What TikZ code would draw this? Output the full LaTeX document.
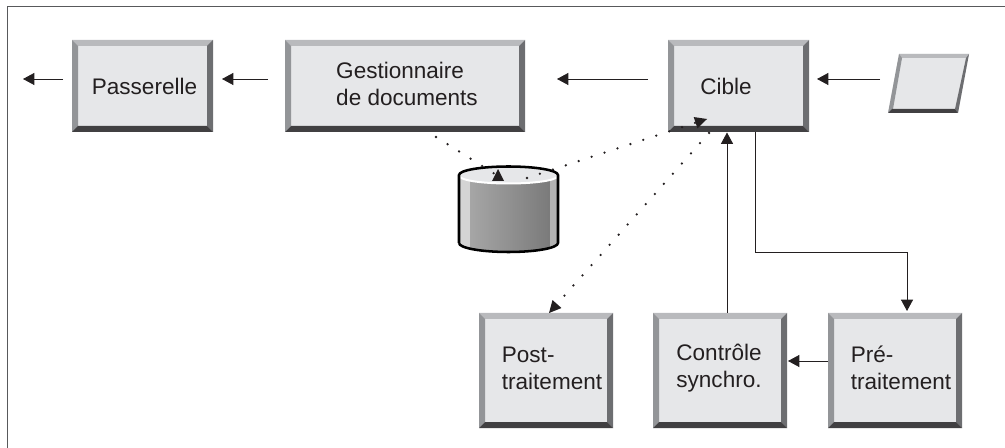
\documentclass[tikz,border=0pt]{standalone}
\usepackage{fontspec}
\setmainfont{Liberation Sans}
\usetikzlibrary{arrows.meta}
\definecolor{boxface}{HTML}{E6E7E9}
\definecolor{bevtop}{HTML}{B9BABD}
\definecolor{bevleft}{HTML}{939598}
\definecolor{bevright}{HTML}{6D6E71}
\definecolor{bevbottom}{HTML}{414042}
\definecolor{inkline}{HTML}{231F20}
\definecolor{framegray}{HTML}{58595B}
\begin{document}
\begin{tikzpicture}
            [x=0.75pt,y=-0.75pt,
            bevelbox/.style={fill=boxface,inner sep=0pt,outer sep=0pt,
                path picture={
                    \fill [bevtop] (path picture bounding box.north west) -- (path picture bounding box.north east) -- ([shift={(-6,6)}]path picture bounding box.north east) -- ([shift={(6,6)}]path picture bounding box.north west) -- cycle;
                    \fill [bevleft] (path picture bounding box.north west) -- (path picture bounding box.south west) -- ([shift={(6,-6)}]path picture bounding box.south west) -- ([shift={(6,6)}]path picture bounding box.north west) -- cycle;
                    \fill [bevright] (path picture bounding box.north east) -- (path picture bounding box.south east) -- ([shift={(-6,-6)}]path picture bounding box.south east) -- ([shift={(-6,6)}]path picture bounding box.north east) -- cycle;
                    \fill [bevbottom] (path picture bounding box.south west) -- (path picture bounding box.south east) -- ([shift={(-6,-6)}]path picture bounding box.south east) -- ([shift={(6,-6)}]path picture bounding box.south west) -- cycle;
                }},
            topbox/.style={bevelbox,minimum width=105.75pt,minimum height=69pt},
            lowbox/.style={bevelbox,minimum width=100.5pt,minimum height=86.25pt},
            boxtext/.style={align=left,inner sep=0pt,text=inkline,font=\fontsize{16.9}{20.2}\selectfont},
            link/.style={draw=inkline,line width=0.65pt,-{Triangle[length=8.5pt,width=9pt]}},
            dotlink/.style={draw=inkline,line width=1.9pt,line cap=round,dash pattern=on 0pt off 10.2pt,
                -{Triangle[length=9pt,width=9pt,round=false,line width=0pt]}}]
            \useasboundingbox (0,0) rectangle (1005,448);
            \draw [framegray,line width=1pt] (7.5,448) -- (7.5,6.5) -- (1005,6.5);

            \node [topbox] (pass) at (142.5,86) {};
            \node [topbox,minimum width=180pt] (gest) at (405,86) {};
            \node [topbox] (cible) at (738.5,86) {};
            \node [lowbox] (post) at (546,370.5) {};
            \node [lowbox] (contr) at (720,370.5) {};
            \node [lowbox] (pre) at (895,370.5) {};
            \node [boxtext] (passtext) at (144.5,86) {Passerelle};
            \node [boxtext] (gesttext) at (407,83.5) {Gestionnaire\\de documents};
            \node [boxtext] (cibletext) at (726,86) {Cible};
            \node [boxtext] (posttext) at (552,368) {Post-\\traitement};
            \node [boxtext] (contrtext) at (719,368) {Contrôle\\synchro.};
            \node [boxtext] (pretext) at (901,368) {Pré-\\traitement};

            \fill [boxface] (899,54) -- (969,54) -- (958,113) -- (888,113) -- cycle;
            \fill [bevtop] (899,54) -- (969,54) -- (966,58) -- (899,58) -- cycle;
            \fill [bevleft] (899,54) -- (888,113) -- (893,109) -- (902,58) -- cycle;
            \fill [bevright] (969,54) -- (958,113) -- (955,109) -- (966,58) -- cycle;
            \fill [bevbottom] (888,113) -- (958,113) -- (955,109) -- (892,109) -- cycle;
            \coordinate (doc) at (880,79);
            \coordinate (passout) at (23,79);

            \coordinate (cyl) at (508.5,175);
            \begin{scope}
                \clip (459,175) -- (459,243) arc [start angle=180,end angle=0,x radius=49.5,y radius=9] -- (558,175) -- cycle;
                \fill [black!17] (455,160) rectangle (470,260);
                \shade [left color=black!35,right color=black!52] (470,160) rectangle (550,260);
                \fill [black!30] (550,160) rectangle (560,260);
            \end{scope}
            \fill [boxface] (cyl) ellipse [x radius=49.5,y radius=8.5];
            \draw [white,line width=1.5pt] (459.5,176) arc [start angle=180,end angle=0,x radius=49,y radius=7.5];
            \draw [black,line width=1.9pt,line join=round]
                (459,243) -- (459,175) arc [start angle=180,end angle=360,x radius=49.5,y radius=8.5] -- (558,243)
                arc [start angle=0,end angle=180,x radius=49.5,y radius=9];

            \draw [link] ([shift={(-9,-7)}]pass.west) -- (passout);
            \draw [link] ([shift={(-17,-7)}]gest.west) -- ([shift={(9,-7)}]pass.east);
            \draw [link] ([shift={(-20,-7)}]cible.west) -- ([shift={(32,-7)}]gest.east);
            \draw [link] (doc) -- ([shift={(8,-7)}]cible.east);
            \draw [link] ([shift={(7,0)}]contr.north) -- ([shift={(-11.5,0.5)}]cible.south);
            \draw [link] ([shift={(16.5,0)}]cible.south) |- ([shift={(12,-61)}]pre.north) -- ([shift={(12,-2)}]pre.north);
            \draw [link] ([shift={(0,-9.5)}]pre.west) -- ([shift={(1,-9.5)}]contr.east);

            \draw [dotlink] ([shift={(31,5)}]gest.south) -- ([shift={(-10.5,1)}]cyl) -- ([shift={(-10.5,6)}]cyl) -- ([shift={(-10.5,-6)}]cyl);
            \draw [dotlink] ([shift={(18.5,3)}]cyl) -- ([shift={(-31.5,-13)}]cible.south);
            \draw [dotlink] ([shift={(-29.5,1)}]cible.south) -- ([shift={(3,0)}]post.north);
        \end{tikzpicture}
\end{document}
